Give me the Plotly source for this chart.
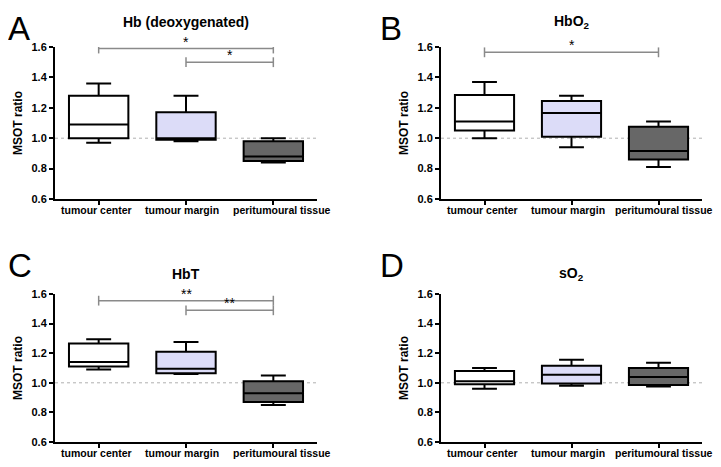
import plotly.graph_objects as go

categories = ["tumour center", "tumour margin", "peritumoural tissue"]
fills = ["#ffffff", "#dcdcf8", "#676767"]

# Hb (deoxygenated)
hb_lo = [0.97, 0.98, 0.84]
hb_q1 = [1.00, 0.99, 0.85]
hb_med = [1.09, 1.00, 0.88]
hb_q3 = [1.28, 1.17, 0.98]
hb_hi = [1.36, 1.28, 1.00]

# HbO2
hbo2_lo = [1.00, 0.94, 0.81]
hbo2_q1 = [1.05, 1.01, 0.86]
hbo2_med = [1.11, 1.165, 0.915]
hbo2_q3 = [1.285, 1.245, 1.075]
hbo2_hi = [1.37, 1.28, 1.11]

# HbT
hbt_lo = [1.09, 1.06, 0.85]
hbt_q1 = [1.11, 1.065, 0.87]
hbt_med = [1.14, 1.095, 0.93]
hbt_q3 = [1.265, 1.21, 1.01]
hbt_hi = [1.295, 1.275, 1.05]

# sO2
so2_lo = [0.96, 0.98, 0.975]
so2_q1 = [0.99, 0.995, 0.985]
so2_med = [1.01, 1.055, 1.04]
so2_q3 = [1.08, 1.115, 1.10]
so2_hi = [1.10, 1.155, 1.135]

# significance bars: (from, to, level, label)
sig_a = [(0, 2, 1.59, "*"), (1, 2, 1.50, "*")]
sig_b = [(0, 2, 1.565, "*")]
sig_c = [(0, 2, 1.555, "**"), (1, 2, 1.49, "**")]
sig_d = []

panels = [
    ("A", "Hb (deoxygenated)", (hb_lo, hb_q1, hb_med, hb_q3, hb_hi), sig_a),
    ("B", "HbO<sub>2</sub>", (hbo2_lo, hbo2_q1, hbo2_med, hbo2_q3, hbo2_hi), sig_b),
    ("C", "HbT", (hbt_lo, hbt_q1, hbt_med, hbt_q3, hbt_hi), sig_c),
    ("D", "sO<sub>2</sub>", (so2_lo, so2_q1, so2_med, so2_q3, so2_hi), sig_d),
]

# the page body has an 8px margin, so the figure is drawn 8px in from the window edge
OFF = 8
W, H = 721 - 2 * OFF, 467 - 2 * OFF


def px(x):
    return (x - OFF) / W


def py(y):
    return 1 - (y - OFF) / H


xdoms = [(px(55), px(317)), (px(441), px(702))]
ydoms = [(py(199), py(47)), (py(442), py(294))]
title_y = [py(22), py(274)]
letter_y = [py(OFF), py(245)]
letter_x = [px(OFF - 2), px(378)]
label_shift = [[-2, -4, 9], [-2, -4, 5]]

font = "Arial, Liberation Sans, sans-serif"
fig = go.Figure()
layout = {}
annotations = []
shapes = []

for i, (letter, title, stats, sigs) in enumerate(panels):
    row, col = divmod(i, 2)
    n = "" if i == 0 else str(i + 1)
    xa, ya = "x" + n, "y" + n
    lo, q1, med, q3, hi = stats
    for j, cat in enumerate(categories):
        fig.add_trace(go.Box(
            x=[cat], q1=[q1[j]], median=[med[j]], q3=[q3[j]],
            lowerfence=[lo[j]], upperfence=[hi[j]],
            fillcolor=fills[j], line=dict(color="black", width=2),
            width=0.68, whiskerwidth=0.42, boxpoints=False,
            xaxis=xa, yaxis=ya, showlegend=False, hoverinfo="skip"))
        annotations.append(dict(
            x=cat, y=0, xref=xa, yref=ya + " domain", text=cat, showarrow=False,
            xanchor="center", yanchor="top", yshift=-3, xshift=label_shift[col][j],
            font=dict(family=font, size=10.5, color="black", weight="bold")))
    for a, b, lvl, lab in sigs:
        fig.add_trace(go.Scatter(
            x=[categories[a], categories[b]], y=[lvl, lvl], mode="lines+markers",
            line=dict(color="#8a8a8a", width=1.5),
            marker=dict(symbol="line-ns-open", size=7,
                        line=dict(color="#8a8a8a", width=1.5)),
            xaxis=xa, yaxis=ya, showlegend=False, hoverinfo="skip"))
        annotations.append(dict(
            x=(a + b) / 2, y=lvl, xref=xa, yref=ya, text=lab, showarrow=False,
            xanchor="center", yanchor="bottom", yshift=-3,
            font=dict(family=font, size=14, color="black")))
    shapes.append(dict(type="line", xref=xa + " domain", yref=ya, x0=0, x1=1,
                       y0=1.0, y1=1.0, line=dict(color="#b0b0b0", width=1, dash="dot"),
                       layer="below"))
    layout["xaxis" + n] = dict(
        domain=xdoms[col], anchor=ya, type="category", range=[-0.5, 2.5],
        showline=True, linecolor="black", linewidth=2, ticks="outside",
        ticklen=4, tickwidth=2, tickcolor="black", showgrid=False, zeroline=False,
        showticklabels=False, automargin=False)
    layout["yaxis" + n] = dict(
        domain=ydoms[row], anchor=xa, range=[0.6, 1.6], dtick=0.2, tickformat=".1f",
        showline=True, linecolor="black", linewidth=2, ticks="outside",
        ticklen=4, tickwidth=2, tickcolor="black", showgrid=False, zeroline=False,
        automargin=False,
        tickfont=dict(family=font, size=11, color="black", weight="bold"),
        title=dict(text="MSOT ratio", standoff=6,
                   font=dict(family=font, size=12, color="black", weight="bold")))
    annotations.append(dict(
        x=sum(xdoms[col]) / 2, y=title_y[row], xref="paper", yref="paper",
        text=title, showarrow=False, xanchor="center", yanchor="middle",
        font=dict(family=font, size=14, color="black", weight="bold")))
    annotations.append(dict(
        x=letter_x[col], y=letter_y[row], xref="paper", yref="paper",
        text=letter, showarrow=False, xanchor="left", yanchor="top",
        font=dict(family=font, size=33, color="black")))

fig.update_layout(
    width=W, height=H, margin=dict(l=0, r=0, t=0, b=0),
    paper_bgcolor="white", plot_bgcolor="white",
    annotations=annotations, shapes=shapes, **layout)

fig.write_html("out.html")
